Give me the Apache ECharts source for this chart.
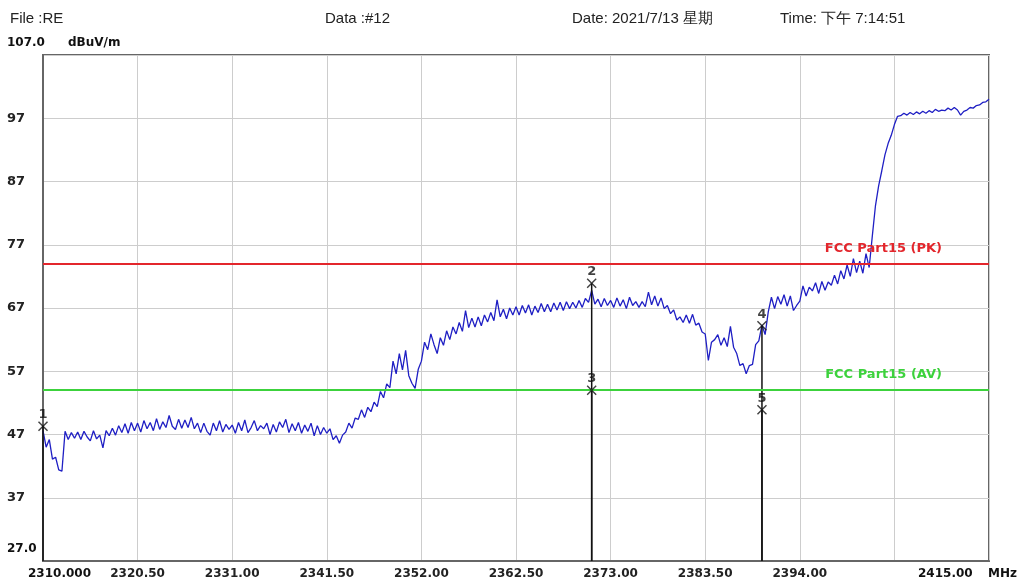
<!DOCTYPE html>
<html>
<head>
<meta charset="utf-8">
<title>RE scan</title>
<script src="https://cdn.jsdelivr.net/npm/echarts@6/dist/echarts.min.js"></script>
<style>
  html, body { margin: 0; padding: 0; background: #fff; }
  #main { width: 1025px; height: 583px; }
</style>
</head>
<body>
<div id="main"></div>
<script>
// sweep 2310 - 2415 MHz, trace (dBuV/m)
var sweepStart = 2310;
var sweepStop = 2415;
var levels = [
  47.6, 45.0, 46.2, 43.1, 43.4, 41.4, 41.2, 47.5, 46.2, 47.3,
  46.4, 47.4, 46.2, 47.5, 46.6, 46.0, 47.6, 46.3, 46.9, 44.9,
  47.6, 46.8, 48.0, 46.9, 48.4, 47.3, 48.7, 47.2, 48.9, 47.6,
  48.8, 47.4, 49.2, 47.9, 48.9, 47.6, 49.5, 47.8, 49.0, 48.1,
  50.0, 48.3, 47.8, 49.4, 48.0, 49.3, 48.1, 49.7, 47.9, 48.8,
  47.3, 48.8, 47.5, 46.9, 48.8, 47.6, 49.2, 47.4, 48.6, 47.8,
  48.5, 47.2, 48.9, 47.6, 49.3, 47.3, 48.1, 49.2, 47.6, 48.4,
  47.9, 48.8, 47.0, 48.6, 47.4, 49.0, 48.1, 49.4, 47.3, 48.7,
  47.6, 48.9, 47.2, 48.5, 47.5, 48.8, 46.8, 48.4, 47.0, 48.1,
  47.2, 47.9, 46.2, 46.8, 45.6, 46.9, 47.4, 48.8, 48.0, 49.6,
  49.4, 50.9, 49.7, 51.3, 50.6, 52.1, 51.4, 53.8, 52.8, 55.0,
  54.4, 58.6, 56.6, 59.8, 57.2, 60.3, 56.3, 55.1, 54.3, 57.3,
  58.6, 61.6, 60.4, 62.9, 61.2, 59.8, 62.3, 61.1, 63.4, 62.0,
  64.0, 62.9, 64.7, 63.3, 66.6, 63.9, 65.4, 64.0, 65.6, 64.2,
  65.9, 64.8, 66.3, 65.0, 68.3, 65.6, 66.8, 65.3, 67.0, 65.9,
  67.2, 65.9, 67.4, 66.2, 67.5, 65.9, 67.3, 66.3, 67.7, 66.4,
  67.6, 66.4, 67.8, 66.7, 67.9, 66.6, 68.0, 66.9, 67.9, 67.0,
  68.2, 67.1, 68.5, 67.9, 69.8, 67.6, 68.4, 67.2, 68.5, 67.4,
  68.2, 67.1, 68.6, 67.3, 68.3, 66.9, 68.7, 67.4, 68.0, 67.1,
  68.0, 67.2, 69.5, 67.5, 68.9, 67.3, 68.6, 66.9, 67.4, 66.1,
  66.7, 65.1, 65.6, 64.7, 65.9, 64.6, 66.0, 64.3, 64.6, 63.2,
  62.9, 58.7, 61.6, 62.0, 62.8, 61.1, 62.3, 60.9, 64.1, 60.8,
  59.8, 57.9, 58.2, 56.6, 57.9, 58.1, 61.2, 61.8, 64.3, 62.8,
  66.4, 68.7, 66.9, 68.8, 67.6, 69.1, 67.3, 68.9, 66.6, 67.4,
  68.1, 70.5, 68.9, 70.3, 69.7, 71.0, 69.3, 71.2, 69.8, 71.1,
  70.6, 72.2, 70.8, 72.9, 71.6, 73.8, 72.0, 74.8, 72.6, 74.4,
  72.5, 75.6, 73.4, 78.4, 83.2, 86.3, 88.7, 91.2, 93.0, 94.3,
  96.0, 97.3, 97.4, 97.8, 97.5, 97.9, 97.6, 98.0, 97.7, 98.1,
  97.8, 98.2, 97.9, 98.4, 98.1, 98.3, 98.2, 98.6, 98.3, 98.7,
  98.3, 97.5, 98.1, 98.3, 98.7, 98.6, 99.0, 99.1, 99.5, 99.6,
  100.0
];
var freqs = levels.map(function (v, i) {
  return sweepStart + i * (sweepStop - sweepStart) / (levels.length - 1);
});

var xTickLabels = ['', '2320.50', '2331.00', '2341.50', '2352.00', '2362.50',
  '2373.00', '2383.50', '2394.00', '', ''];

var limitNames = ['FCC Part15 (PK)', 'FCC Part15 (AV)'];
var limitValues = [74, 54];
var limitColors = ['#e3262c', '#3cd23c'];

var markerNames = ['1', '2', '3', '4', '5'];
var markerFreqs = [2310.0, 2370.9, 2370.9, 2389.8, 2389.8];
var markerLevels = [48.3, 70.9, 54.0, 64.2, 50.9];

var chart = echarts.init(document.getElementById('main'));

var boldFont = 'DejaVu Sans';
var headFont = '"Liberation Sans", Arial, sans-serif';

var series = [];

series.push({
  type: 'line',
  data: freqs.map(function (f, i) { return [f, levels[i]]; }),
  showSymbol: false,
  sampling: null,
  lineStyle: { color: '#1f1fc4', width: 1.3 },
  z: 3,
  silent: true,
  markLine: {
    symbol: 'none',
    silent: true,
    animation: false,
    data: limitValues.map(function (v, i) {
      return {
        yAxis: v,
        name: limitNames[i],
        lineStyle: { color: limitColors[i], width: 2, type: 'solid' },
        label: {
          show: true,
          position: 'insideEndTop',
          distance: [47, 9],
          formatter: '{b}',
          color: limitColors[i],
          fontFamily: boldFont,
          fontWeight: 'bold',
          fontSize: 13
        }
      };
    })
  }
});

// marker drop lines
markerNames.forEach(function (n, i) {
  series.push({
    type: 'line',
    data: [[markerFreqs[i], 27], [markerFreqs[i], markerLevels[i]]],
    showSymbol: false,
    lineStyle: { color: '#111', width: 1.5 },
    z: 4,
    silent: true
  });
});

series.push({
  type: 'scatter',
  data: markerNames.map(function (n, i) {
    return { name: n, value: [markerFreqs[i], markerLevels[i]] };
  }),
  symbol: 'path://M0,1L1,0L5,4L9,0L10,1L6,5L10,9L9,10L5,6L1,10L0,9L4,5Z',
  symbolSize: 10,
  itemStyle: { color: '#111' },
  z: 5,
  silent: true,
  label: {
    show: true,
    position: 'top',
    distance: 0,
    formatter: '{b}',
    color: '#111',
    fontFamily: boldFont,
    fontWeight: 'bold',
    fontSize: 13
  }
});

function headText(x, y, text, opts) {
  var st = Object.assign({
    text: text,
    fill: '#222',
    font: '15px ' + headFont,
    textVerticalAlign: 'middle'
  }, opts || {});
  return { type: 'text', left: x, top: y, style: st, silent: true };
}

var option = {
  animation: false,
  backgroundColor: '#fff',
  grid: {
    left: 43, right: 36, top: 55, bottom: 22,
    show: true, borderColor: '#666', borderWidth: 2, backgroundColor: '#fff'
  },
  xAxis: {
    type: 'value',
    min: sweepStart,
    max: sweepStop,
    interval: 10.5,
    axisLine: { show: true, lineStyle: { color: '#666', width: 2 } },
    axisTick: { show: false },
    splitLine: { show: true, lineStyle: { color: '#cdcdcd', width: 1 } },
    axisLabel: {
      margin: 7,
      color: '#222',
      fontFamily: boldFont,
      fontWeight: 'bold',
      fontSize: 12,
      formatter: function (v) {
        var idx = Math.round((v - sweepStart) / 10.5);
        return xTickLabels[idx] || '';
      }
    }
  },
  yAxis: {
    type: 'value',
    min: 27,
    max: 107,
    interval: 10,
    axisLine: { show: true, lineStyle: { color: '#666', width: 2 } },
    axisTick: { show: false },
    splitLine: { show: true, lineStyle: { color: '#cdcdcd', width: 1 } },
    axisLabel: {
      align: 'left',
      margin: 36,
      color: '#222',
      fontFamily: boldFont,
      fontWeight: 'bold',
      fontSize: 13,
      formatter: function (v) {
        return (v === 27 || v === 107) ? '' : String(v);
      }
    }
  },
  graphic: [
    headText(10, 11, 'File :RE'),
    headText(325, 11, 'Data :#12'),
    headText(572, 11, 'Date: 2021/7/13 星期'),
    headText(780, 11, 'Time: 下午 7:14:51'),
    headText(7, 37, '107.0', { font: 'bold 12px ' + boldFont, fill: '#111' }),
    headText(68, 37, 'dBuV/m', { font: 'bold 12px ' + boldFont, fill: '#111' }),
    headText(7, 543, '27.0', { font: 'bold 12px ' + boldFont, fill: '#111' }),
    headText(28, 568, '2310.000', { font: 'bold 12px ' + boldFont, fill: '#111' }),
    headText(918, 568, '2415.00', { font: 'bold 12px ' + boldFont, fill: '#111' }),
    headText(988, 568, 'MHz', { font: 'bold 12px ' + boldFont, fill: '#111' })
  ],
  series: series
};

chart.setOption(option);
</script>
</body>
</html>
